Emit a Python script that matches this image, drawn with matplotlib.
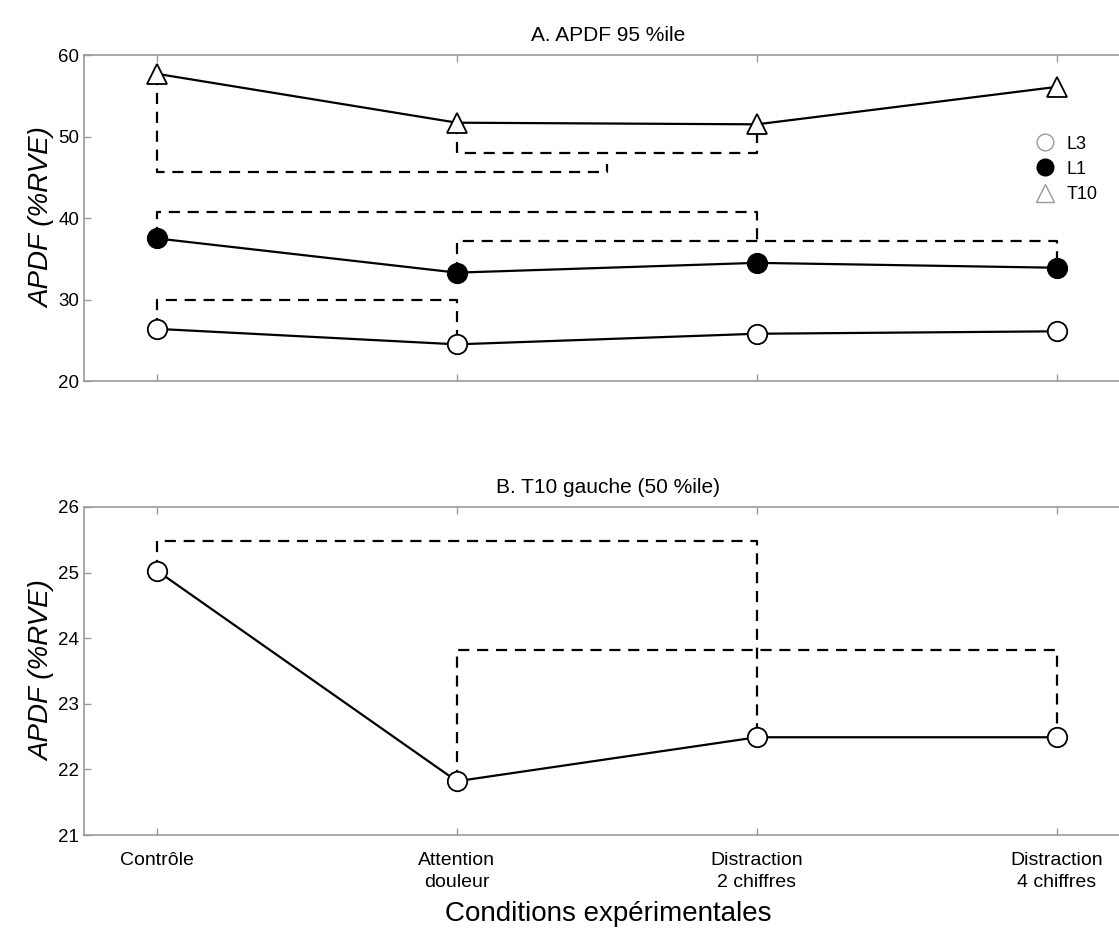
import matplotlib.pyplot as plt
import numpy as np
from matplotlib.lines import Line2D

plt.rcParams['font.family'] = ['Liberation Sans', 'DejaVu Sans']

# conditions on x axis
conditions = ['Contrôle', 'Attention\ndouleur', 'Distraction\n2 chiffres', 'Distraction\n4 chiffres']
x = np.arange(1, 5)

# panel A values (APDF 95 %ile)
l3 = [26.4, 24.5, 25.8, 26.1]
l1 = [37.5, 33.3, 34.5, 33.9]
t10 = [57.7, 51.7, 51.5, 56.1]

# panel B values (T10 gauche, 50 %ile)
t10_gauche = [25.03, 21.82, 22.49, 22.49]

# significance brackets: (x_start, y_start, y_level, x_end, y_end)
brackets_a = [
    (1, 57.7, 45.6, 2.5, 46.6),
    (2, 51.7, 48.0, 3, 51.5),
    (1, 37.5, 40.7, 3, 37.2),
    (2, 33.3, 37.2, 4, 33.9),
    (1, 26.4, 29.9, 2, 24.5),
]
brackets_b = [
    (1, 25.03, 25.48, 3, 22.49),
    (2, 21.82, 23.82, 4, 22.49),
]

fig = plt.figure(figsize=(11.19, 9.38), dpi=100)
ax1 = fig.add_axes([0.075, 0.5938, 0.9366, 0.3475])
ax2 = fig.add_axes([0.075, 0.1098, 0.9366, 0.3497])


def draw_brackets(ax, brackets):
    for xs, ys, yl, xe, ye in brackets:
        ax.plot([xs, xs, xe, xe], [ys, yl, yl, ye], color='black', lw=1.6,
                ls=(0, (5, 3.5)), zorder=2)


def style_axes(ax):
    for s in ax.spines.values():
        s.set_color('#9a9a9a')
        s.set_linewidth(1.2)
    ax.tick_params(direction='in', color='#9a9a9a', length=5, width=1,
                   top=True, labelsize=13.5)
    ax.set_xlim(0.757, 4.25)
    ax.set_xticks(x)
    ax.set_ylabel('APDF (%RVE)', fontsize=20, fontstyle='italic', labelpad=2)


# panel A
draw_brackets(ax1, brackets_a)
mk = dict(color='black', lw=1.6, markersize=14, markeredgewidth=1.3, zorder=3)
ax1.plot(x, l3, marker='o', markerfacecolor='white', markeredgecolor='black', **mk)
ax1.plot(x, l1, marker='o', markerfacecolor='black', markeredgecolor='black', **mk)
ax1.plot(x, t10, marker='^', markerfacecolor='white', markeredgecolor='black',
         **{**mk, 'markersize': 15})
ax1.set_ylim(20, 60)
ax1.set_yticks([20, 30, 40, 50, 60])
ax1.set_xticklabels([])
style_axes(ax1)
ax1.set_title('A. APDF 95 %ile', fontsize=15, pad=10)

handles = [
    Line2D([], [], ls='none', marker='o', markersize=12, markerfacecolor='white',
           markeredgecolor='#999999'),
    Line2D([], [], ls='none', marker='o', markersize=12, markerfacecolor='black',
           markeredgecolor='black'),
    Line2D([], [], ls='none', marker='^', markersize=13, markerfacecolor='white',
           markeredgecolor='#999999'),
]
ax1.legend(handles, ['L3', 'L1', 'T10'], loc='upper left', bbox_to_anchor=(0.9, 0.775),
           frameon=False, fontsize=13, handletextpad=0.6, labelspacing=0.45,
           handlelength=1.2, borderaxespad=0)

# panel B
draw_brackets(ax2, brackets_b)
ax2.plot(x, t10_gauche, marker='o', markerfacecolor='white', markeredgecolor='black', **mk)
ax2.set_ylim(21, 26)
ax2.set_yticks([21, 22, 23, 24, 25, 26])
style_axes(ax2)
ax2.set_xticklabels(conditions, fontsize=14, linespacing=1.4)
ax2.tick_params(axis='x', pad=12)
ax2.set_title('B. T10 gauche (50 %ile)', fontsize=15, pad=10)
ax2.set_xlabel('Conditions expérimentales', fontsize=20, labelpad=7)

fig.savefig('out.png', dpi=100)
